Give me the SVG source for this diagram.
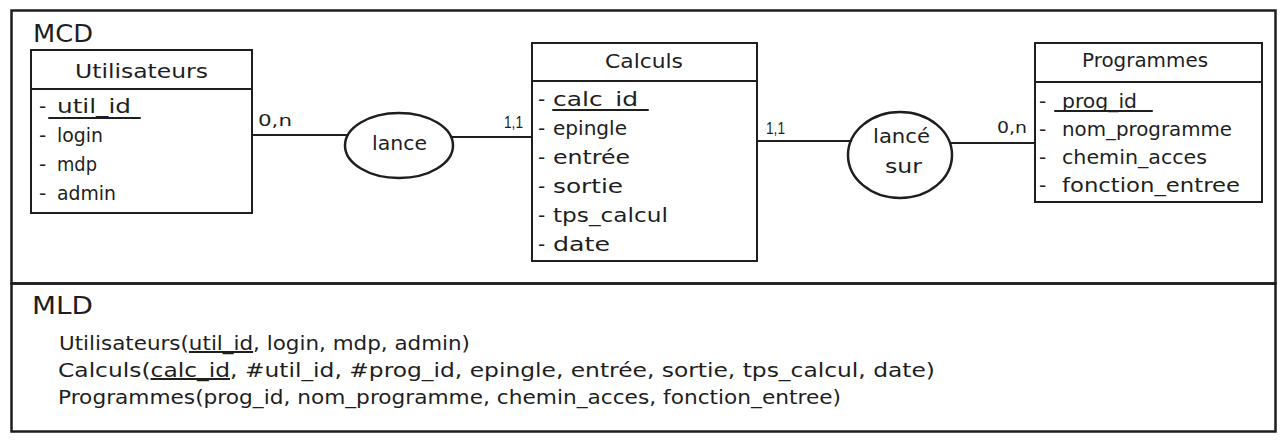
<svg xmlns="http://www.w3.org/2000/svg" width="1285" height="447" viewBox="0 0 1285 447">
  <style>
    .s { fill: none; stroke: #1e1e1e; stroke-width: 2; stroke-linecap: round; }
    .f { fill: none; stroke: #1e1e1e; stroke-width: 2.5; }
    .e { fill: none; stroke: #1e1e1e; stroke-width: 2.5; }
    .t { font-family: "DejaVu Sans", "Liberation Sans", sans-serif; font-size: 20px; fill: #1e1e1e; }
    .h { font-size: 24px; }
    .c { font-size: 16px; }
    .k { font-family: "Liberation Sans", Arial, sans-serif; font-size: 17px; fill: #1e1e1e; }
    .u { text-decoration: underline; }
  </style>
  <rect width="1285" height="447" fill="#ffffff"/>

  <g id="mcd-frame">
    <rect class="f" x="11.5" y="10.5" width="1264" height="273"/>
    <text class="t h" x="33" y="42" textLength="60" lengthAdjust="spacingAndGlyphs">MCD</text>
  </g>

  <g id="mld-frame">
    <rect class="f" x="11.5" y="283.5" width="1264" height="148"/>
    <text class="t h" x="32" y="314" textLength="61" lengthAdjust="spacingAndGlyphs">MLD</text>
    <text class="t" x="59" y="350" textLength="411" lengthAdjust="spacingAndGlyphs">Utilisateurs(<tspan class="u">util_id</tspan>, login, mdp, admin)</text>
    <text class="t" x="58" y="377" textLength="877" lengthAdjust="spacingAndGlyphs">Calculs(<tspan class="u">calc_id</tspan>, #util_id, #prog_id, epingle, entrée, sortie, tps_calcul, date)</text>
    <text class="t" x="58" y="404" textLength="783" lengthAdjust="spacingAndGlyphs">Programmes(prog_id, nom_programme, chemin_acces, fonction_entree)</text>
  </g>

  <g id="connectors">
    <line class="s" x1="252" y1="135" x2="348" y2="135"/>
    <line class="s" x1="451" y1="137" x2="532" y2="137"/>
    <line class="s" x1="757" y1="141" x2="851" y2="141"/>
    <line class="s" x1="950" y1="143" x2="1035" y2="143"/>
    <text class="t c" x="258" y="126" textLength="34" lengthAdjust="spacingAndGlyphs">0,n</text>
    <text class="k" x="504" y="128" textLength="19" lengthAdjust="spacingAndGlyphs">1,1</text>
    <text class="k" x="766" y="134" textLength="19" lengthAdjust="spacingAndGlyphs">1,1</text>
    <text class="t c" x="997" y="133" textLength="30" lengthAdjust="spacingAndGlyphs">0,n</text>
  </g>

  <g id="utilisateurs">
    <rect class="s" x="31" y="50" width="221" height="163"/>
    <line class="s" x1="31" y1="89" x2="252" y2="89"/>
    <text class="t" x="75" y="78" textLength="133" lengthAdjust="spacingAndGlyphs">Utilisateurs</text>
    <text class="t" x="39" y="113">-</text>
    <text class="t" x="57" y="113" textLength="74" lengthAdjust="spacingAndGlyphs">util_id</text>
    <line class="s" x1="49" y1="118" x2="140" y2="118" stroke-width="1.5"/>
    <text class="t" x="39" y="142">-</text>
    <text class="t" x="57" y="142" textLength="46" lengthAdjust="spacingAndGlyphs">login</text>
    <text class="t" x="39" y="171">-</text>
    <text class="t" x="57" y="171" textLength="40" lengthAdjust="spacingAndGlyphs">mdp</text>
    <text class="t" x="39" y="200">-</text>
    <text class="t" x="57" y="200" textLength="59" lengthAdjust="spacingAndGlyphs">admin</text>
  </g>

  <g id="lance">
    <ellipse class="e" cx="399" cy="145.5" rx="54" ry="32.5"/>
    <text class="t" x="372" y="150" textLength="55" lengthAdjust="spacingAndGlyphs">lance</text>
  </g>

  <g id="calculs">
    <rect class="s" x="532" y="43" width="225" height="218"/>
    <line class="s" x1="532" y1="81" x2="757" y2="81"/>
    <text class="t" x="605" y="68" textLength="78" lengthAdjust="spacingAndGlyphs">Calculs</text>
    <text class="t" x="538" y="106">-</text>
    <text class="t" x="553" y="106" textLength="85" lengthAdjust="spacingAndGlyphs">calc_id</text>
    <line class="s" x1="553" y1="110" x2="648" y2="110" stroke-width="1.5"/>
    <text class="t" x="538" y="135">-</text>
    <text class="t" x="553" y="135" textLength="74" lengthAdjust="spacingAndGlyphs">epingle</text>
    <text class="t" x="538" y="164">-</text>
    <text class="t" x="553" y="164" textLength="77" lengthAdjust="spacingAndGlyphs">entrée</text>
    <text class="t" x="538" y="193">-</text>
    <text class="t" x="553" y="193" textLength="70" lengthAdjust="spacingAndGlyphs">sortie</text>
    <text class="t" x="538" y="222">-</text>
    <text class="t" x="553" y="222" textLength="115" lengthAdjust="spacingAndGlyphs">tps_calcul</text>
    <text class="t" x="538" y="251">-</text>
    <text class="t" x="553" y="251" textLength="57" lengthAdjust="spacingAndGlyphs">date</text>
  </g>

  <g id="lance-sur">
    <ellipse class="e" cx="900" cy="155" rx="52" ry="43"/>
    <text class="t" x="873" y="143" textLength="57" lengthAdjust="spacingAndGlyphs">lancé</text>
    <text class="t" x="885" y="173" textLength="37" lengthAdjust="spacingAndGlyphs">sur</text>
  </g>

  <g id="programmes">
    <rect class="s" x="1035" y="43" width="227" height="159"/>
    <line class="s" x1="1035" y1="82" x2="1262" y2="82"/>
    <text class="t" x="1082" y="67" textLength="126" lengthAdjust="spacingAndGlyphs">Programmes</text>
    <text class="t" x="1039" y="108">-</text>
    <text class="t" x="1062" y="108" textLength="75" lengthAdjust="spacingAndGlyphs">prog_id</text>
    <line class="s" x1="1055" y1="111" x2="1152" y2="111" stroke-width="1.5"/>
    <text class="t" x="1039" y="136">-</text>
    <text class="t" x="1062" y="136" textLength="170" lengthAdjust="spacingAndGlyphs">nom_programme</text>
    <text class="t" x="1039" y="164">-</text>
    <text class="t" x="1062" y="164" textLength="145" lengthAdjust="spacingAndGlyphs">chemin_acces</text>
    <text class="t" x="1039" y="192">-</text>
    <text class="t" x="1062" y="192" textLength="178" lengthAdjust="spacingAndGlyphs">fonction_entree</text>
  </g>
</svg>
